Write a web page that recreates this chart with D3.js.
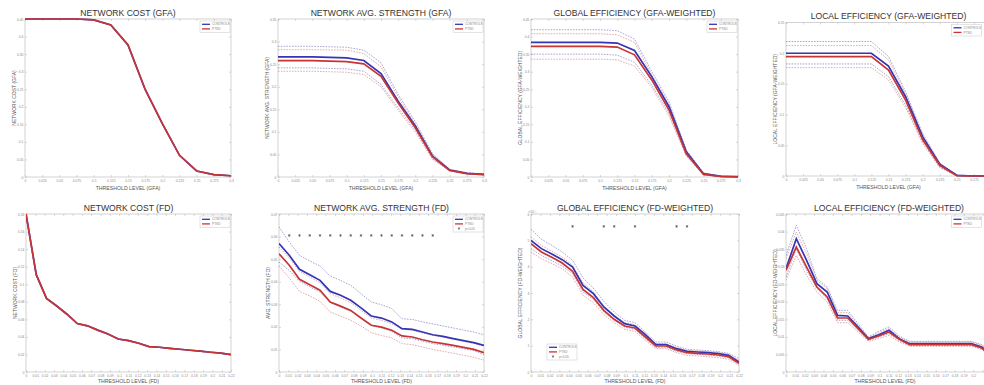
<!DOCTYPE html>
<html><head><meta charset="utf-8">
<script src="https://cdn.jsdelivr.net/npm/d3@7"></script>
<style>body{margin:0;background:#fff}svg{display:block}text{font-family:"Liberation Sans",Arial,sans-serif}</style>
</head><body><svg id="c" width="984" height="385"></svg>
<script>
// ---------- thresholds / ticks ----------
const gfaThresh = [0,0.025,0.05,0.075,0.1,0.125,0.15,0.175,0.2,0.225,0.25,0.275,0.3];
const gfaTicks  = [0,0.025,0.05,0.075,0.1,0.125,0.15,0.175,0.2,0.225,0.25,0.275,0.3];
const fdThresh  = [0,0.011,0.022,0.033,0.044,0.055,0.066,0.077,0.088,0.099,0.11,0.121,0.132,0.143,0.154,0.165,0.176,0.187,0.198,0.209,0.22];
const fdTicks   = [0,0.01,0.02,0.03,0.04,0.05,0.06,0.07,0.08,0.09,0.1,0.11,0.12,0.13,0.14,0.15,0.16,0.17,0.18,0.19,0.2,0.21,0.22];

const legendLabels = ["CONTROLS","PTSD","p<0.05"];

// ---------- y ticks ----------
const yTicksCostGFA = [0,0.05,0.1,0.15,0.2,0.25,0.3,0.35,0.4,0.45];
const yTicksStrGFA  = [0,0.05,0.1,0.15,0.2,0.25,0.3,0.35];
const yTicksGeGFA   = [0,0.05,0.1,0.15,0.2,0.25,0.3,0.35,0.4,0.45];
const yTicksLeGFA   = [0,0.05,0.1,0.15,0.2,0.25];
const yTicksCostFD  = [0,0.02,0.04,0.06,0.08,0.1,0.12,0.14,0.16,0.18];
const yTicksStrFD   = [0,0.01,0.02,0.03,0.04,0.05,0.06,0.07];
const yTicksGeFD    = [0,1,2,3,4,5,6]; // x10^-3
const yTicksLeFD    = [0,0.005,0.01,0.015,0.02,0.025,0.03,0.035,0.04,0.045];

// ---------- series: NETWORK COST (GFA) ----------
const costGFA_ctrl = [0.45,0.45,0.45,0.45,0.4473,0.4329,0.3758,0.2493,0.1521,0.0617,0.0171,0.0068,0.0036];
const costGFA_pat  = [0.45,0.45,0.45,0.45,0.4473,0.4329,0.3758,0.2493,0.1521,0.0617,0.0171,0.0068,0.0036];

// ---------- NETWORK AVG. STRENGTH (GFA) ----------
const strGFA_ctrl    = [0.266,0.266,0.266,0.265,0.2639,0.258,0.229,0.168,0.113,0.046,0.0155,0.0081,0.0059];
const strGFA_pat     = [0.258,0.258,0.258,0.2565,0.2557,0.2505,0.223,0.164,0.109,0.045,0.0147,0.0074,0.0052];
const strGFA_ctrlHi  = [0.2896,0.2896,0.2896,0.2885,0.2874,0.281,0.253,0.183,0.122,0.052,0.017,0.0096,0.0066];
const strGFA_patHi   = [0.282,0.282,0.282,0.2815,0.281,0.2734,0.2443,0.1776,0.1164,0.05,0.016,0.0088,0.0059];
const strGFA_ctrlLo  = [0.2417,0.2417,0.2417,0.2406,0.2395,0.2343,0.2049,0.1533,0.104,0.0405,0.014,0.0074,0.0052];
const strGFA_patLo   = [0.2343,0.2343,0.2343,0.2332,0.232,0.227,0.1997,0.148,0.0995,0.039,0.0133,0.0066,0.0044];

// ---------- GLOBAL EFFICIENCY (GFA-WEIGHTED) ----------
const geGFA_ctrl   = [0.3833,0.3833,0.3833,0.3833,0.3833,0.3814,0.3604,0.286,0.2002,0.0715,0.0095,0.002,0.001];
const geGFA_pat    = [0.3718,0.3718,0.3718,0.3718,0.3718,0.37,0.348,0.2765,0.1907,0.0667,0.0076,0.0019,0.0005];
const geGFA_ctrlHi = [0.4195,0.4195,0.4195,0.4195,0.4195,0.4166,0.3928,0.3005,0.2145,0.0782,0.0114,0.003,0.001];
const geGFA_patHi  = [0.408,0.408,0.408,0.408,0.408,0.405,0.3833,0.291,0.2078,0.0744,0.0105,0.0028,0.0008];
const geGFA_ctrlLo = [0.35,0.35,0.35,0.35,0.35,0.347,0.3267,0.2622,0.1811,0.062,0.0067,0.001,0];
const geGFA_patLo  = [0.3356,0.3356,0.3356,0.3356,0.3356,0.3337,0.316,0.2555,0.1735,0.0591,0.0057,0.001,0];

// ---------- LOCAL EFFICIENCY (GFA-WEIGHTED) ----------
const leGFA_ctrl   = [0.1999,0.1999,0.1999,0.1999,0.1999,0.1999,0.1792,0.1291,0.0637,0.0191,0.0011,0,0];
const leGFA_pat    = [0.1945,0.1945,0.1945,0.1945,0.1945,0.1945,0.1727,0.1236,0.0594,0.0174,0.0005,0,0];
const leGFA_ctrlHi = [0.219,0.219,0.219,0.219,0.219,0.219,0.1945,0.1373,0.0692,0.0212,0.0016,0,0];
const leGFA_patHi  = [0.2124,0.2124,0.2124,0.2124,0.2124,0.2124,0.189,0.1335,0.0665,0.0202,0.0011,0,0];
const leGFA_ctrlLo = [0.1825,0.1825,0.1825,0.1825,0.1825,0.1825,0.1618,0.1155,0.0556,0.0147,0.0005,0,0];
const leGFA_patLo  = [0.1765,0.1765,0.1765,0.1765,0.1765,0.1765,0.1563,0.1117,0.0528,0.0136,0,0,0];

// ---------- NETWORK COST (FD) ----------
const costFD_ctrl = [0.18,0.1109,0.0838,0.0752,0.0658,0.0552,0.0526,0.0477,0.0432,0.0376,0.0357,0.0327,0.0289,0.0282,0.027,0.0259,0.0248,0.0237,0.0225,0.0214,0.0199];
const costFD_pat  = [0.18,0.1109,0.0838,0.0752,0.0658,0.0552,0.0526,0.0477,0.0432,0.0376,0.0357,0.0327,0.0289,0.0282,0.027,0.0259,0.0248,0.0237,0.0225,0.0214,0.0199];

// ---------- NETWORK AVG. STRENGTH (FD) ----------
const strFD_ctrl   = [0.0569,0.0517,0.0455,0.0431,0.0406,0.0357,0.034,0.0318,0.0284,0.0248,0.0239,0.0222,0.0192,0.0189,0.0177,0.0165,0.0158,0.0148,0.0139,0.013,0.0118];
const strFD_pat    = [0.0524,0.0473,0.0411,0.0387,0.0362,0.031,0.0292,0.0273,0.0239,0.0207,0.0199,0.0185,0.016,0.0155,0.0143,0.0133,0.0126,0.0118,0.0109,0.01,0.0086];
const strFD_ctrlHi = [0.0643,0.0576,0.0517,0.0492,0.047,0.0425,0.0406,0.0384,0.0347,0.031,0.0298,0.0281,0.0236,0.0233,0.0222,0.0213,0.0204,0.0195,0.0186,0.0177,0.0165];
const strFD_patHi  = [0.0554,0.0505,0.0446,0.0421,0.0396,0.0347,0.0328,0.0307,0.0273,0.0239,0.0229,0.0214,0.0189,0.0185,0.0173,0.0162,0.0154,0.0145,0.0136,0.0126,0.0115];
const strFD_ctrlLo = [0.0487,0.045,0.0402,0.0377,0.0354,0.0307,0.0288,0.0269,0.0239,0.0207,0.0195,0.018,0.0151,0.0148,0.0136,0.0126,0.0118,0.0111,0.0103,0.0095,0.0077];
const strFD_patLo  = [0.047,0.0417,0.0357,0.0337,0.0313,0.0266,0.0248,0.0229,0.0204,0.0174,0.0162,0.0151,0.0126,0.0121,0.0111,0.01,0.0092,0.0083,0.0074,0.0065,0.0052];
const strFD_sigX   = [0.011,0.022,0.033,0.044,0.055,0.066,0.077,0.088,0.099,0.11,0.121,0.132,0.143,0.154,0.165];
const strFD_sigY   = 0.0605;

// ---------- GLOBAL EFFICIENCY (FD-WEIGHTED), x10^-3 ----------
const geFD_ctrl   = [5.0,4.684,4.481,4.266,3.987,3.291,2.975,2.468,2.127,1.835,1.747,1.418,1.038,1.038,0.886,0.785,0.759,0.734,0.696,0.633,0.38];
const geFD_pat    = [4.873,4.557,4.354,4.139,3.823,3.139,2.823,2.342,2.0,1.747,1.671,1.329,0.987,0.987,0.835,0.734,0.709,0.684,0.646,0.582,0.329];
const geFD_ctrlHi = [5.418,5.038,4.81,4.557,4.241,3.57,3.19,2.684,2.278,1.962,1.873,1.519,1.139,1.139,0.987,0.861,0.835,0.81,0.772,0.709,0.506];
const geFD_patHi  = [5.127,4.81,4.582,4.367,4.051,3.392,3.038,2.506,2.152,1.873,1.797,1.443,1.076,1.063,0.937,0.823,0.797,0.772,0.734,0.671,0.443];
const geFD_ctrlLo = [4.684,4.43,4.228,4.025,3.734,3.038,2.759,2.278,1.962,1.709,1.62,1.266,0.937,0.937,0.785,0.696,0.671,0.646,0.608,0.544,0.304];
const geFD_patLo  = [4.557,4.304,4.114,3.924,3.608,2.911,2.633,2.177,1.873,1.62,1.544,1.203,0.886,0.886,0.734,0.633,0.608,0.582,0.544,0.481,0.253];
const geFD_sigX   = [0.044,0.077,0.088,0.11,0.154,0.165];
const geFD_sigY   = 5.53;

// ---------- LOCAL EFFICIENCY (FD-WEIGHTED) ----------
const leFD_ctrl   = [0.02943,0.03797,0.0318,0.02516,0.02278,0.01614,0.01595,0.01282,0.0095,0.01063,0.01187,0.0095,0.00807,0.00807,0.00807,0.00807,0.00807,0.00807,0.00807,0.00712,0.00475];
const leFD_pat    = [0.02896,0.0356,0.0299,0.02421,0.02136,0.01538,0.01538,0.01234,0.0093,0.01025,0.01139,0.0093,0.00778,0.00778,0.00778,0.00778,0.00778,0.00778,0.00778,0.00684,0.00446];
const leFD_ctrlHi = [0.03323,0.04177,0.03513,0.02658,0.02421,0.01756,0.01756,0.01377,0.00997,0.01158,0.01282,0.01025,0.00873,0.00873,0.00873,0.00873,0.00873,0.00873,0.00873,0.00778,0.00551];
const leFD_patHi  = [0.03228,0.03987,0.03369,0.02611,0.02374,0.0169,0.0169,0.01329,0.00978,0.0112,0.01234,0.00987,0.00854,0.00854,0.00854,0.00854,0.00854,0.00854,0.00854,0.0076,0.00522];
const leFD_ctrlLo = [0.02706,0.03513,0.02896,0.02374,0.02089,0.01472,0.01472,0.01187,0.00902,0.00997,0.01092,0.00892,0.0076,0.0076,0.0076,0.0076,0.0076,0.0076,0.0076,0.00665,0.00427];
const leFD_patLo  = [0.02611,0.03323,0.02753,0.02278,0.01994,0.01405,0.01405,0.01139,0.00873,0.00949,0.01044,0.00854,0.00731,0.00731,0.00731,0.00731,0.00731,0.00731,0.00731,0.00636,0.00399];

// ---------- drawing ----------
const svg = d3.select("#c");
svg.append("rect").attr("width",984).attr("height",385).attr("fill","#fff");

const C_BLUE="#3434b4", C_RED="#c83434", C_BLUE_D="#6a6ab4", C_RED_D="#cc7474";
const fmt = d => String(+d.toFixed(4));
const W = 984;

const panels = [
 {title:"NETWORK COST (GFA)", yl:"NETWORK COST (GFA)", xl:"THRESHOLD LEVEL (GFA)", l:25,r:231,t:19,b:177,
  x:gfaThresh, xt:gfaTicks, xd:[0,0.3], yd:[0,0.45], yt:yTicksCostGFA,
  ctrl:costGFA_ctrl, pat:costGFA_pat, legend:"tr"},
 {title:"NETWORK AVG. STRENGTH (GFA)", yl:"NETWORK AVG. STRENGTH (GFA)", xl:"THRESHOLD LEVEL (GFA)", l:278,r:484,t:19,b:177,
  x:gfaThresh, xt:gfaTicks, xd:[0,0.3], yd:[0,0.35], yt:yTicksStrGFA,
  ctrl:strGFA_ctrl, pat:strGFA_pat, bands:[strGFA_ctrlHi,strGFA_ctrlLo,strGFA_patHi,strGFA_patLo], legend:"tr"},
 {title:"GLOBAL EFFICIENCY (GFA-WEIGHTED)", yl:"GLOBAL EFFICIENCY (GFA-WEIGHTED)", xl:"THRESHOLD LEVEL (GFA)", l:531,r:738,t:19,b:177,
  x:gfaThresh, xt:gfaTicks, xd:[0,0.3], yd:[0,0.45], yt:yTicksGeGFA,
  ctrl:geGFA_ctrl, pat:geGFA_pat, bands:[geGFA_ctrlHi,geGFA_ctrlLo,geGFA_patHi,geGFA_patLo], legend:"tr"},
 {title:"LOCAL EFFICIENCY (GFA-WEIGHTED)", yl:"LOCAL EFFICIENCY (GFA-WEIGHTED)", xl:"THRESHOLD LEVEL (GFA)", l:786,r:991,t:22.5,b:176,
  x:gfaThresh, xt:gfaTicks, xd:[0,0.3], yd:[0,0.25], yt:yTicksLeGFA,
  ctrl:leGFA_ctrl, pat:leGFA_pat, bands:[leGFA_ctrlHi,leGFA_ctrlLo,leGFA_patHi,leGFA_patLo], legend:"tr"},
 {title:"NETWORK COST (FD)", yl:"NETWORK COST (FD)", xl:"THRESHOLD LEVEL (FD)", l:26,r:231,t:214,b:372,
  x:fdThresh, xt:fdTicks, xd:[0,0.22], yd:[0,0.18], yt:yTicksCostFD,
  ctrl:costFD_ctrl, pat:costFD_pat, legend:"tr"},
 {title:"NETWORK AVG. STRENGTH (FD)", yl:"AVG. STRENGTH (FD)", xl:"THRESHOLD LEVEL (FD)", l:279,r:484,t:214,b:372,
  x:fdThresh, xt:fdTicks, xd:[0,0.22], yd:[0,0.07], yt:yTicksStrFD,
  ctrl:strFD_ctrl, pat:strFD_pat, bands:[strFD_ctrlHi,strFD_ctrlLo,strFD_patHi,strFD_patLo],
  sigX:strFD_sigX, sigY:strFD_sigY, legend:"tr"},
 {title:"GLOBAL EFFICIENCY (FD-WEIGHTED)", yl:"GLOBAL EFFICIENCY (FD-WEIGHTED)", xl:"THRESHOLD LEVEL (FD)", l:531,r:739,t:214,b:372,
  x:fdThresh, xt:fdTicks, xd:[0,0.22], yd:[0,6], yt:yTicksGeFD, mult:true,
  ctrl:geFD_ctrl, pat:geFD_pat, bands:[geFD_ctrlHi,geFD_ctrlLo,geFD_patHi,geFD_patLo],
  sigX:geFD_sigX, sigY:geFD_sigY, legend:"bl"},
 {title:"LOCAL EFFICIENCY (FD-WEIGHTED)", yl:"LOCAL EFFICIENCY (FD-WEIGHTED)", xl:"THRESHOLD LEVEL (FD)", l:786,r:992,t:214,b:372,
  x:fdThresh, xt:fdTicks, xd:[0,0.22], yd:[0,0.045], yt:yTicksLeFD,
  ctrl:leFD_ctrl, pat:leFD_pat, bands:[leFD_ctrlHi,leFD_ctrlLo,leFD_patHi,leFD_patLo], legend:"tr"}
];

const asterisk = d3.symbolAsterisk || d3.symbolCross;

panels.forEach(p => {
  const g = svg.append("g");
  const x = d3.scaleLinear().domain(p.xd).range([p.l,p.r]);
  const y = d3.scaleLinear().domain(p.yd).range([p.b,p.t]);
  const top = p.t < 100;

  // title
  g.append("text").attr("x",(p.l+p.r)/2).attr("y",p.t-3.5).attr("text-anchor","middle")
    .attr("font-size",8.6).attr("fill","#333").text(p.title);

  // axes (ticks inward on all four sides); labels only for ticks that are on the page
  const visTicks = p.xt.filter(v => x(v) < W - 4);
  const axB = g.append("g").attr("transform",`translate(0,${p.b})`)
    .call(d3.axisBottom(x).tickValues(p.xt).tickSize(-2).tickPadding(2.2)
      .tickFormat(v => visTicks.includes(v) ? fmt(v) : ""));
  const axT = g.append("g").attr("transform",`translate(0,${p.t})`)
    .call(d3.axisTop(x).tickValues(p.xt).tickSize(-2).tickFormat(""));
  const axL = g.append("g").attr("transform",`translate(${p.l},0)`)
    .call(d3.axisLeft(y).tickValues(p.yt).tickSize(-2).tickPadding(1.5).tickFormat(fmt));
  const axR = g.append("g").attr("transform",`translate(${p.r},0)`)
    .call(d3.axisRight(y).tickValues(p.yt).tickSize(-2).tickFormat(""));
  [axB,axT,axL,axR].forEach(a => {
    a.select(".domain").remove();
    a.selectAll("line").attr("stroke","#b0b0b0").attr("stroke-width",0.5);
    a.selectAll("text").attr("font-size",3.4).attr("fill","#8a8a8a").attr("font-family","Liberation Sans, Arial, sans-serif");
  });
  axB.selectAll("text").filter(function(){ return this.textContent===""; }).remove();
  g.append("rect").attr("x",p.l).attr("y",p.t).attr("width",p.r-p.l).attr("height",p.b-p.t)
    .attr("fill","none").attr("stroke","#b4b4b4").attr("stroke-width",0.6);

  if (p.mult) {
    g.append("text").attr("x",p.l-3).attr("y",p.t-1).attr("font-size",3.6).attr("fill","#8a8a8a").text("×10⁻³");
  }

  // axis labels (centred on the visible part of the plot)
  const cx = (p.l + Math.min(p.r, W)) / 2;
  g.append("text").attr("x",top ? (p.l+p.r)/2 : cx).attr("y",top ? p.b+13 : p.b+10.5).attr("text-anchor","middle")
    .attr("font-size",5.2).attr("fill","#555").text(p.xl);
  g.append("text").attr("transform",`translate(${p.l-10.5},${(p.t+p.b)/2}) rotate(-90)`)
    .attr("text-anchor","middle").attr("dy","0.35em").attr("font-size",5).attr("fill","#555").text(p.yl);

  const line = d3.line().x((d,i)=>x(p.x[i])).y(d=>y(d));
  const clipId = "clip"+Math.round(p.l)+"_"+Math.round(p.t);
  svg.append("clipPath").attr("id",clipId).append("rect")
    .attr("x",p.l).attr("y",p.t-1).attr("width",p.r-p.l).attr("height",p.b-p.t+2);
  const pg = g.append("g").attr("clip-path",`url(#${clipId})`);

  if (p.bands) {
    p.bands.forEach((s,k) => {
      pg.append("path").datum(s).attr("d",line).attr("fill","none")
        .attr("stroke", k<2 ? C_BLUE_D : C_RED_D).attr("stroke-width",0.6)
        .attr("stroke-dasharray","1.6,1.2");
    });
  }
  pg.append("path").datum(p.ctrl).attr("d",line).attr("fill","none").attr("stroke",C_BLUE).attr("stroke-width",1.7);
  pg.append("path").datum(p.pat).attr("d",line).attr("fill","none").attr("stroke",C_RED).attr("stroke-width",1.7);

  if (p.sigX) {
    g.selectAll(null).data(p.sigX).enter().append("path")
      .attr("transform",d=>`translate(${x(d)},${y(p.sigY)})`)
      .attr("d",d3.symbol().type(asterisk).size(5))
      .attr("fill","none").attr("stroke","#444").attr("stroke-width",0.6);
  }

  // legend
  const n = p.sigX ? 3 : 2;
  const lw = 30, lh = n===3 ? 16 : 11.5;
  const rEdge = Math.min(p.r, W - 1.5);
  const lx = p.legend==="bl" ? p.l+16 : rEdge-lw-1;
  const ly = p.legend==="bl" ? p.b-28 : p.t+2;
  const lg = g.append("g").attr("transform",`translate(${lx},${ly})`);
  lg.append("rect").attr("width",lw).attr("height",lh).attr("fill","#fff").attr("stroke","#bbb").attr("stroke-width",0.4);
  for (let i=0;i<n;i++) {
    const yy = 3.3 + i*4.6;
    if (i<2) {
      lg.append("line").attr("x1",2).attr("x2",10).attr("y1",yy).attr("y2",yy)
        .attr("stroke", i===0?C_BLUE:C_RED).attr("stroke-width",1.3);
    } else {
      lg.append("path").attr("transform",`translate(6,${yy})`).attr("d",d3.symbol().type(asterisk).size(4))
        .attr("fill","none").attr("stroke","#444").attr("stroke-width",0.5);
    }
    lg.append("text").attr("x",12).attr("y",yy).attr("dy","0.35em").attr("font-size",3.2).attr("fill","#888").text(legendLabels[i]);
  }
});
</script></body></html>
